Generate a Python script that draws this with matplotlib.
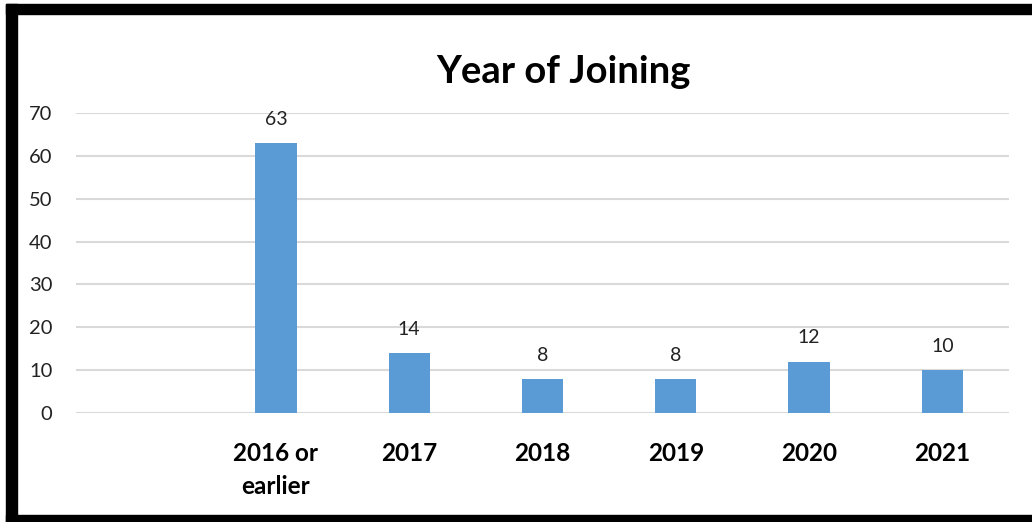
import matplotlib.pyplot as plt
from matplotlib.patches import Rectangle

# year of joining counts
categories = ["", "2016 or\nearlier", "2017", "2018", "2019", "2020", "2021"]
counts = [0, 63, 14, 8, 8, 12, 10]
yticks = [0, 10, 20, 30, 40, 50, 60, 70]

plt.rcParams["font.family"] = ["Lato", "DejaVu Sans"]

fig = plt.figure(figsize=(10.32, 5.22), dpi=100)
ax = fig.add_axes([76 / 1032, 109 / 522, 933 / 1032, 300 / 522])

x = list(range(len(categories)))
bars = ax.bar(x[1:], counts[1:], width=0.31, color="#5b9bd5", zorder=3)
for xi, v in zip(x[1:], counts[1:]):
    ax.annotate(str(v), (xi, v), xytext=(0, 17), textcoords="offset points",
                ha="center", va="center", fontsize=14, color="#222222")

ax.set_xlim(-0.5, len(categories) - 0.5)
ax.set_ylim(0, 70)
ax.set_yticks(yticks)
ax.set_xticks(x)
ax.set_xticklabels(categories, fontsize=17.5, fontweight="bold", linespacing=1.5)
ax.tick_params(axis="y", length=0, pad=17, labelsize=14.5, labelcolor="#222222")
ax.tick_params(axis="x", length=0, pad=21)
ax.grid(axis="y", color="#d9d9d9", linewidth=1.5, zorder=0)
for s in ax.spines.values():
    s.set_visible(False)

fig.text(563 / 1032, 1 - 72 / 522, "Year of Joining", ha="center", va="center",
         fontsize=27.5, fontweight="bold")

# thick black frame on left, top and bottom
fig.add_artist(Rectangle((6 / 1032, 0), 11 / 1032, 1 - 4 / 522,
                         transform=fig.transFigure, color="black"))
fig.add_artist(Rectangle((6 / 1032, 1 - 14 / 522), 1, 10 / 522,
                         transform=fig.transFigure, color="black"))
fig.add_artist(Rectangle((6 / 1032, 0), 1, 7 / 522,
                         transform=fig.transFigure, color="black"))

fig.savefig("out.png", dpi=100)
